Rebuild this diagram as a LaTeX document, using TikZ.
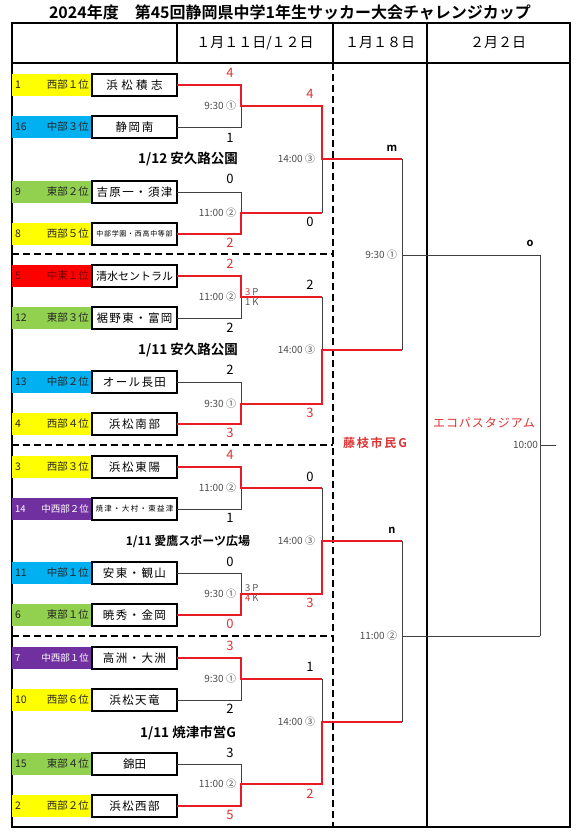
\documentclass[tikz,border=0pt]{standalone}
\usepackage{fontspec}
\setmainfont{Noto Sans CJK JP}[BoldFont={Noto Sans CJK JP Bold}]
\usepackage{tikz}
\usetikzlibrary{positioning}
\definecolor{west_c}{RGB}{255,255,0}
\definecolor{mid_c}{RGB}{0,176,240}
\definecolor{east_c}{RGB}{146,208,80}
\definecolor{chuto_c}{RGB}{255,0,0}
\definecolor{chusei_c}{RGB}{112,48,160}
\definecolor{win_c}{RGB}{232,28,36}
\definecolor{score_c}{RGB}{220,50,50}
\newcommand{\tracked}[2]{{\addfontfeature{LetterSpace=#1}#2}}

\begin{document}
\begin{tikzpicture}[x=1pt, y=-1pt,
  every node/.style={inner sep=0pt, outer sep=0pt},
  seed/.style={minimum width=80pt, minimum height=22pt, anchor=west,
               font=\fontsize{10.5}{10.5}\selectfont, text=black!85},
  team/.style={draw, line width=1.5pt, minimum width=85pt, minimum height=22pt,
               anchor=west, font=\fontsize{11.5}{12}\selectfont},
  win/.style={win_c, line width=2.7pt},
  lose/.style={black!75, line width=0.9pt},
  sc/.style={font=\fontsize{13}{13}\selectfont},
  wsc/.style={sc, text=score_c},
  tm/.style={font=\fontsize{10}{10}\selectfont, text=black!70},
  venue/.style={font=\bfseries\fontsize{13.5}{14}\selectfont},
  pk/.style={font=\fontsize{9.5}{10.5}\selectfont, text=black!65, align=left, anchor=west},
  hd/.style={font=\fontsize{14}{14}\selectfont},
  frame/.style={line width=1.5pt},
  sep/.style={line width=1.6pt, dash pattern=on 7pt off 4pt},
]
\useasboundingbox (0,0) rectangle (577,833);
\node[font=\bfseries\fontsize{16}{16}\selectfont] (title) at (290,12)
  {2024年度　第45回静岡県中学1年生サッカー大会チャレンジカップ};
\draw[frame] (12,23) rectangle (570,827);
\draw[frame] (12,63) -- (570,63);
\draw[frame] (177,23) -- (177,63);
\draw[frame] (333,23) -- (333,63);
\draw[frame] (427,23) -- (427,827);
\draw[sep] (333,63) -- (333,827);
\draw[sep] (12,254) -- (333,254);
\draw[sep] (12,445) -- (333,445);
\draw[sep] (12,636) -- (333,636);
\node[hd] (h1) at (255,43) {１月１１日/１２日};
\node[hd] (h2) at (380,43) {１月１８日};
\node[hd] (h3) at (498,43) {２月２日};

\node[seed, fill=west_c] (s1) at (12,85) {\makebox[74pt]{1\hfill 西部１位}};
\node[team] (t1) at (92,85) {\tracked{30}{浜松積志}};
\node[seed, fill=mid_c] (s16) at (12,127) {\makebox[74pt]{16\hfill 中部３位}};
\node[team] (t16) at (92,127) {\tracked{15}{静岡南}};
\node[seed, fill=east_c] (s9) at (12,192) {\makebox[74pt]{9\hfill 東部２位}};
\node[team] (t9) at (92,192) {\tracked{12}{吉原一・須津}};
\node[seed, fill=west_c] (s8) at (12,234) {\makebox[74pt]{8\hfill 西部５位}};
\node[team, font=\fontsize{7}{7}\selectfont] (t8) at (92,234) {\tracked{10}{中部学園・西高中等部}};

\node[seed, fill=chuto_c, text=red!45!black] (s5) at (12,276) {\makebox[74pt]{5\hfill 中東１位}};
\node[team, font=\fontsize{11}{11}\selectfont] (t5) at (92,276) {清水セントラル};
\node[seed, fill=east_c] (s12) at (12,318) {\makebox[74pt]{12\hfill 東部３位}};
\node[team] (t12) at (92,318) {\tracked{12}{裾野東・富岡}};
\node[seed, fill=mid_c] (s13) at (12,382) {\makebox[74pt]{13\hfill 中部２位}};
\node[team] (t13) at (92,382) {\tracked{12}{オール長田}};
\node[seed, fill=west_c] (s4) at (12,424) {\makebox[74pt]{4\hfill 西部４位}};
\node[team] (t4) at (92,424) {\tracked{15}{浜松南部}};

\node[seed, fill=west_c] (s3) at (12,467) {\makebox[74pt]{3\hfill 西部３位}};
\node[team] (t3) at (92,467) {\tracked{15}{浜松東陽}};
\node[seed, fill=chusei_c, text=white, font=\fontsize{9.5}{9.5}\selectfont] (s14) at (12,509)
  {\makebox[74pt]{14\hfill 中西部２位}};
\node[team, font=\fontsize{7.5}{7.5}\selectfont] (t14) at (92,509) {\tracked{17}{焼津・大村・東益津}};
\node[seed, fill=mid_c] (s11) at (12,573) {\makebox[74pt]{11\hfill 中部１位}};
\node[team] (t11) at (92,573) {\tracked{12}{安東・観山}};
\node[seed, fill=east_c] (s6) at (12,615) {\makebox[74pt]{6\hfill 東部１位}};
\node[team] (t6) at (92,615) {\tracked{12}{暁秀・金岡}};

\node[seed, fill=chusei_c, text=white, font=\fontsize{9.5}{9.5}\selectfont] (s7) at (12,658)
  {\makebox[74pt]{7\hfill 中西部１位}};
\node[team] (t7) at (92,658) {\tracked{12}{高洲・大洲}};
\node[seed, fill=west_c] (s10) at (12,700) {\makebox[74pt]{10\hfill 西部６位}};
\node[team] (t10) at (92,700) {\tracked{12}{浜松天竜}};
\node[seed, fill=east_c] (s15) at (12,764) {\makebox[74pt]{15\hfill 東部４位}};
\node[team] (t15) at (92,764) {錦田};
\node[seed, fill=west_c] (s2) at (12,806) {\makebox[74pt]{2\hfill 西部２位}};
\node[team] (t2) at (92,806) {\tracked{12}{浜松西部}};

\coordinate (p11) at (241,106); \coordinate (p12) at (241,213);
\coordinate (q11) at (322,106); \coordinate (q12) at (322,213);
\coordinate (r1) at (322,159);  \coordinate (w1) at (402,159);
\coordinate (p21) at (241,297); \coordinate (p22) at (241,404);
\coordinate (q21) at (322,297); \coordinate (q22) at (322,404);
\coordinate (r2) at (322,350);  \coordinate (w2) at (402,350);
\coordinate (p31) at (241,488); \coordinate (p32) at (241,594);
\coordinate (q31) at (322,488); \coordinate (q32) at (322,594);
\coordinate (r3) at (322,541);  \coordinate (w3) at (402,541);
\coordinate (p41) at (241,679); \coordinate (p42) at (241,784);
\coordinate (q41) at (322,679); \coordinate (q42) at (322,784);
\coordinate (r4) at (322,722);  \coordinate (w4) at (402,722);
\coordinate (k1) at (402,255); \coordinate (k2) at (402,636);
\coordinate (f1) at (540,255); \coordinate (f2) at (540,636);
\coordinate (fj) at (540,445); \coordinate (champ) at (556,445);

\draw[lose] (t16.east) -| (p11);
\draw[lose] (t9.east) -| (p12);
\draw[lose] (q12) -- (r1);
\draw[lose] (t12.east) -| (p21);
\draw[lose] (t13.east) -| (p22);
\draw[lose] (q21) -- (r2);
\draw[lose] (t14.east) -| (p31);
\draw[lose] (t11.east) -| (p32);
\draw[lose] (q31) -- (r3);
\draw[lose] (t10.east) -| (p41);
\draw[lose] (t15.east) -| (p42);
\draw[lose] (q41) -- (r4);
\draw[lose] (w1) |- (f1);
\draw[lose] (w2) -- (k1);
\draw[lose] (w3) |- (f2);
\draw[lose] (w4) -- (k2);
\draw[lose] (f1) |- (champ);
\draw[lose] (f2) -- (fj);

\draw[win] (t1.east) -| (p11) -- (q11) |- (w1);
\draw[win] (t8.east) -| (p12) -- (q12);
\draw[win] (t5.east) -| (p21) -- (q21);
\draw[win] (t4.east) -| (p22) -- (q22) |- (w2);
\draw[win] (t3.east) -| (p31) -- (q31);
\draw[win] (t6.east) -| (p32) -- (q32) |- (w3);
\draw[win] (t7.east) -| (p41) -- (q41);
\draw[win] (t2.east) -| (p42) -- (q42) |- (w4);

\node[tm, left=5pt of p11] (m11) {9:30 ①};
\node[tm, left=5pt of p12] (m12) {11:00 ②};
\node[tm, left=7pt of r1] (m13) {14:00 ③};
\node[tm, left=5pt of p21] (m21) {11:00 ②};
\node[tm, left=5pt of p22] (m22) {9:30 ①};
\node[tm, left=7pt of r2] (m23) {14:00 ③};
\node[tm, left=5pt of p31] (m31) {11:00 ②};
\node[tm, left=5pt of p32] (m32) {9:30 ①};
\node[tm, left=7pt of r3] (m33) {14:00 ③};
\node[tm, left=5pt of p41] (m41) {9:30 ①};
\node[tm, left=5pt of p42] (m42) {11:00 ②};
\node[tm, left=7pt of r4] (m43) {14:00 ③};
\node[tm, left=5pt of k1] (mk1) {9:30 ①};
\node[tm, left=5pt of k2] (mk2) {11:00 ②};
\node[tm, left=2pt of fj] (mfj) {10:00};

\node[venue] (v1) at (188,159) {1/12 安久路公園};
\node[venue] (v2) at (188,350) {1/11 安久路公園};
\node[venue, font=\bfseries\fontsize{12}{12}\selectfont] (v3) at (188,541) {1/11 愛鷹スポーツ広場};
\node[venue] (v4) at (188,733) {1/11 焼津市営G};

\node[wsc] (c1a) at (230,73) {4};  \node[sc] (c1b) at (230,138) {1};
\node[sc] (c1c) at (230,179) {0};  \node[wsc] (c1d) at (230,243) {2};
\node[wsc] (c1e) at (310,94) {4};  \node[sc] (c1f) at (310,222) {0};
\node[wsc] (c2a) at (230,264) {2}; \node[sc] (c2b) at (230,328) {2};
\node[sc] (c2c) at (230,370) {2};  \node[wsc] (c2d) at (230,433) {3};
\node[sc] (c2e) at (310,285) {2};  \node[wsc] (c2f) at (310,413) {3};
\node[wsc] (c3a) at (230,455) {4}; \node[sc] (c3b) at (230,518) {1};
\node[sc] (c3c) at (230,562) {0};  \node[wsc] (c3d) at (230,624) {0};
\node[sc] (c3e) at (310,477) {0};  \node[wsc] (c3f) at (310,603) {3};
\node[wsc] (c4a) at (230,646) {3}; \node[sc] (c4b) at (230,709) {2};
\node[sc] (c4c) at (230,753) {3};  \node[wsc] (c4d) at (230,815) {5};
\node[sc] (c4e) at (310,667) {1};  \node[wsc] (c4f) at (310,794) {2};
\node[pk] (pk2) at (245,297) {\textcolor{score_c}{3} P\\1 K};
\node[pk] (pk3) at (245,593) {3 P\\\textcolor{score_c}{4} K};

\node[sc, font=\bfseries\fontsize{11}{11}\selectfont] (lm) at (392,148) {m};
\node[sc, font=\bfseries\fontsize{11}{11}\selectfont] (ln) at (392,530) {n};
\node[sc, font=\bfseries\fontsize{11}{11}\selectfont] (lo) at (530,243) {o};
\node[font=\bfseries\fontsize{12}{12}\selectfont, text=score_c] (fuji) at (375,443) {\tracked{15}{藤枝市民G}};
\node[font=\fontsize{12}{12}\selectfont, text=score_c] (eco) at (484,423) {\tracked{8}{エコパスタジアム}};
\end{tikzpicture}
\end{document}
